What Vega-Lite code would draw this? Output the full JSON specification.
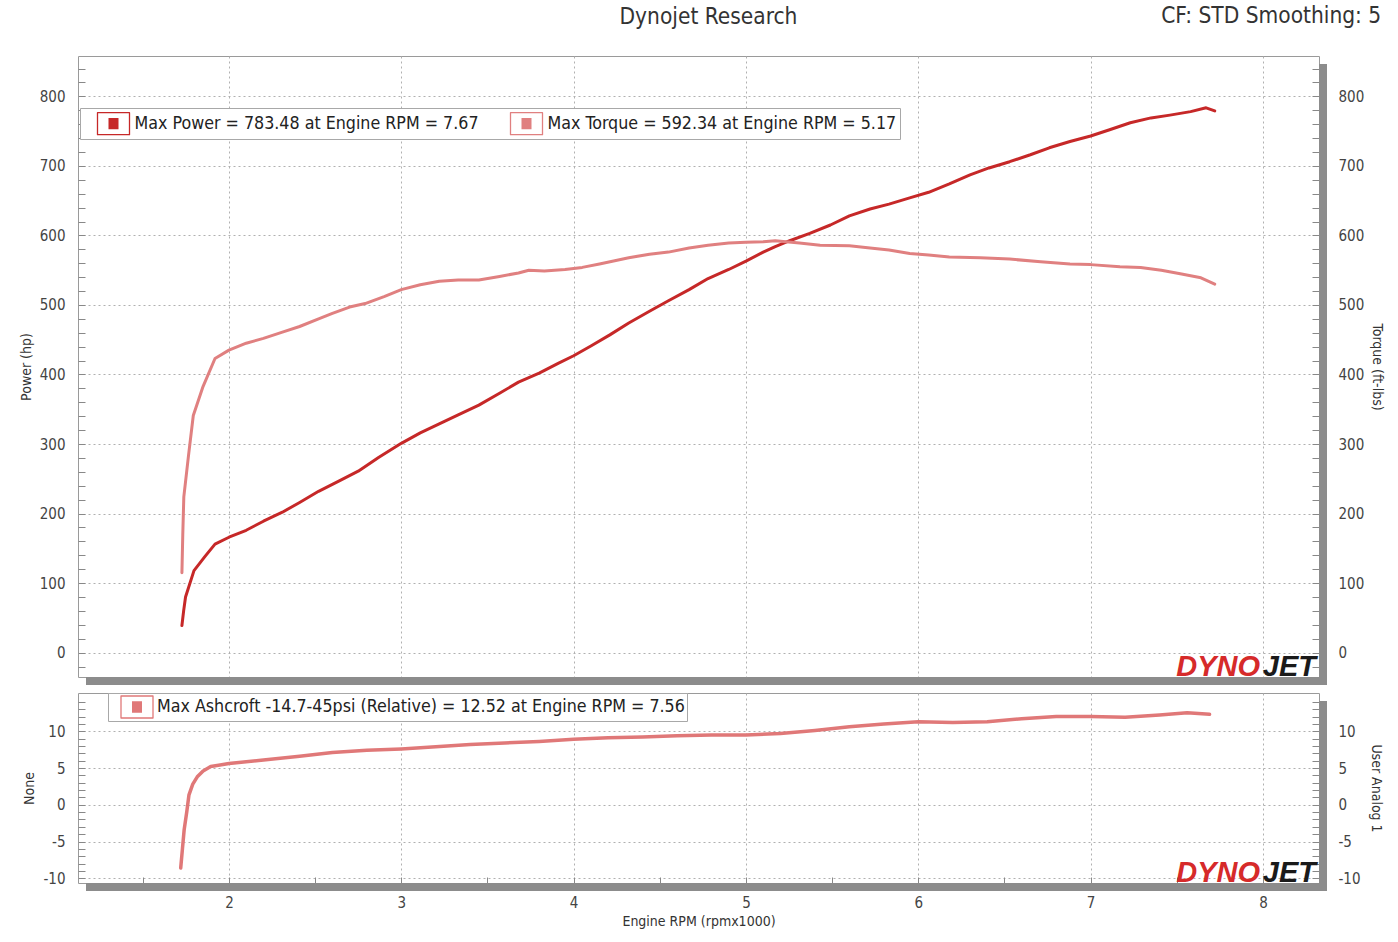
{
  "$schema": "https://vega.github.io/schema/vega-lite/v6.json",
  "background": "white",
  "padding": {"left": 18, "top": 4, "right": 5, "bottom": 5},
  "title": {"text": "CF: STD Smoothing: 5", "anchor": "end", "frame": "bounds", "fontSize": 22.5, "fontWeight": "normal", "font": "DejaVu Sans Condensed, Liberation Sans, sans-serif", "color": "#333333", "offset": 0, "dy": 22, "dx": -3},
  "datasets": {
    "dyno": [
      {"rpm": 1.727, "series": "Power", "value": 39},
      {"rpm": 1.737, "series": "Power", "value": 60},
      {"rpm": 1.748, "series": "Power", "value": 80},
      {"rpm": 1.797, "series": "Power", "value": 118},
      {"rpm": 1.86, "series": "Power", "value": 138},
      {"rpm": 1.919, "series": "Power", "value": 156},
      {"rpm": 2.0, "series": "Power", "value": 166},
      {"rpm": 2.1, "series": "Power", "value": 176},
      {"rpm": 2.2, "series": "Power", "value": 189},
      {"rpm": 2.31, "series": "Power", "value": 202},
      {"rpm": 2.41, "series": "Power", "value": 216},
      {"rpm": 2.52, "series": "Power", "value": 232},
      {"rpm": 2.64, "series": "Power", "value": 247},
      {"rpm": 2.75, "series": "Power", "value": 261},
      {"rpm": 2.87, "series": "Power", "value": 281},
      {"rpm": 3.0, "series": "Power", "value": 301},
      {"rpm": 3.11, "series": "Power", "value": 316},
      {"rpm": 3.22, "series": "Power", "value": 329},
      {"rpm": 3.33, "series": "Power", "value": 342},
      {"rpm": 3.45, "series": "Power", "value": 356},
      {"rpm": 3.57, "series": "Power", "value": 373},
      {"rpm": 3.68, "series": "Power", "value": 389},
      {"rpm": 3.8, "series": "Power", "value": 402},
      {"rpm": 3.91, "series": "Power", "value": 416},
      {"rpm": 4.0, "series": "Power", "value": 427},
      {"rpm": 4.1, "series": "Power", "value": 441},
      {"rpm": 4.21, "series": "Power", "value": 457},
      {"rpm": 4.32, "series": "Power", "value": 474},
      {"rpm": 4.44, "series": "Power", "value": 491},
      {"rpm": 4.55, "series": "Power", "value": 506},
      {"rpm": 4.67, "series": "Power", "value": 522},
      {"rpm": 4.78, "series": "Power", "value": 538},
      {"rpm": 4.9, "series": "Power", "value": 551},
      {"rpm": 5.0, "series": "Power", "value": 563},
      {"rpm": 5.1, "series": "Power", "value": 576},
      {"rpm": 5.17, "series": "Power", "value": 584},
      {"rpm": 5.25, "series": "Power", "value": 592},
      {"rpm": 5.37, "series": "Power", "value": 603},
      {"rpm": 5.49, "series": "Power", "value": 615},
      {"rpm": 5.6, "series": "Power", "value": 628},
      {"rpm": 5.72, "series": "Power", "value": 638},
      {"rpm": 5.83, "series": "Power", "value": 645},
      {"rpm": 5.95, "series": "Power", "value": 654},
      {"rpm": 6.06, "series": "Power", "value": 662},
      {"rpm": 6.18, "series": "Power", "value": 674},
      {"rpm": 6.3, "series": "Power", "value": 687},
      {"rpm": 6.41, "series": "Power", "value": 697},
      {"rpm": 6.53, "series": "Power", "value": 706},
      {"rpm": 6.65, "series": "Power", "value": 716},
      {"rpm": 6.76, "series": "Power", "value": 726},
      {"rpm": 6.88, "series": "Power", "value": 735},
      {"rpm": 7.0, "series": "Power", "value": 743},
      {"rpm": 7.11, "series": "Power", "value": 752},
      {"rpm": 7.23, "series": "Power", "value": 762},
      {"rpm": 7.35, "series": "Power", "value": 769},
      {"rpm": 7.46, "series": "Power", "value": 773},
      {"rpm": 7.58, "series": "Power", "value": 778},
      {"rpm": 7.67, "series": "Power", "value": 783.5},
      {"rpm": 7.72, "series": "Power", "value": 779},
      {"rpm": 1.727, "series": "Torque", "value": 115},
      {"rpm": 1.732, "series": "Torque", "value": 170},
      {"rpm": 1.738, "series": "Torque", "value": 224},
      {"rpm": 1.765, "series": "Torque", "value": 283},
      {"rpm": 1.793, "series": "Torque", "value": 341},
      {"rpm": 1.85, "series": "Torque", "value": 383},
      {"rpm": 1.919, "series": "Torque", "value": 423},
      {"rpm": 2.0, "series": "Torque", "value": 435},
      {"rpm": 2.1, "series": "Torque", "value": 445},
      {"rpm": 2.2, "series": "Torque", "value": 452},
      {"rpm": 2.31, "series": "Torque", "value": 461},
      {"rpm": 2.41, "series": "Torque", "value": 469},
      {"rpm": 2.52, "series": "Torque", "value": 480},
      {"rpm": 2.6, "series": "Torque", "value": 488},
      {"rpm": 2.7, "series": "Torque", "value": 497},
      {"rpm": 2.79, "series": "Torque", "value": 502},
      {"rpm": 2.9, "series": "Torque", "value": 512},
      {"rpm": 3.0, "series": "Torque", "value": 522},
      {"rpm": 3.11, "series": "Torque", "value": 529},
      {"rpm": 3.22, "series": "Torque", "value": 534},
      {"rpm": 3.33, "series": "Torque", "value": 536},
      {"rpm": 3.45, "series": "Torque", "value": 536},
      {"rpm": 3.57, "series": "Torque", "value": 541},
      {"rpm": 3.68, "series": "Torque", "value": 546},
      {"rpm": 3.74, "series": "Torque", "value": 550},
      {"rpm": 3.83, "series": "Torque", "value": 549},
      {"rpm": 3.95, "series": "Torque", "value": 551},
      {"rpm": 4.05, "series": "Torque", "value": 554},
      {"rpm": 4.15, "series": "Torque", "value": 559},
      {"rpm": 4.32, "series": "Torque", "value": 568},
      {"rpm": 4.44, "series": "Torque", "value": 573},
      {"rpm": 4.55, "series": "Torque", "value": 576},
      {"rpm": 4.67, "series": "Torque", "value": 582},
      {"rpm": 4.78, "series": "Torque", "value": 586},
      {"rpm": 4.9, "series": "Torque", "value": 589},
      {"rpm": 5.0, "series": "Torque", "value": 590},
      {"rpm": 5.1, "series": "Torque", "value": 591},
      {"rpm": 5.17, "series": "Torque", "value": 592.3},
      {"rpm": 5.31, "series": "Torque", "value": 589},
      {"rpm": 5.43, "series": "Torque", "value": 586},
      {"rpm": 5.6, "series": "Torque", "value": 585},
      {"rpm": 5.72, "series": "Torque", "value": 582},
      {"rpm": 5.83, "series": "Torque", "value": 579},
      {"rpm": 5.95, "series": "Torque", "value": 574},
      {"rpm": 6.06, "series": "Torque", "value": 572},
      {"rpm": 6.18, "series": "Torque", "value": 569},
      {"rpm": 6.36, "series": "Torque", "value": 568},
      {"rpm": 6.53, "series": "Torque", "value": 566},
      {"rpm": 6.71, "series": "Torque", "value": 562},
      {"rpm": 6.88, "series": "Torque", "value": 559},
      {"rpm": 7.0, "series": "Torque", "value": 558},
      {"rpm": 7.17, "series": "Torque", "value": 555},
      {"rpm": 7.29, "series": "Torque", "value": 554},
      {"rpm": 7.41, "series": "Torque", "value": 550},
      {"rpm": 7.52, "series": "Torque", "value": 545},
      {"rpm": 7.64, "series": "Torque", "value": 539},
      {"rpm": 7.72, "series": "Torque", "value": 530},
      {"rpm": 1.72, "series": "Boost", "value": -8.6},
      {"rpm": 1.73, "series": "Boost", "value": -6.0},
      {"rpm": 1.74, "series": "Boost", "value": -3.4},
      {"rpm": 1.755, "series": "Boost", "value": -1.0},
      {"rpm": 1.768, "series": "Boost", "value": 1.35},
      {"rpm": 1.79, "series": "Boost", "value": 2.8},
      {"rpm": 1.816, "series": "Boost", "value": 3.8},
      {"rpm": 1.85, "series": "Boost", "value": 4.6},
      {"rpm": 1.894, "series": "Boost", "value": 5.2},
      {"rpm": 2.0, "series": "Boost", "value": 5.6},
      {"rpm": 2.2, "series": "Boost", "value": 6.1},
      {"rpm": 2.41, "series": "Boost", "value": 6.6},
      {"rpm": 2.6, "series": "Boost", "value": 7.1},
      {"rpm": 2.8, "series": "Boost", "value": 7.4},
      {"rpm": 3.0, "series": "Boost", "value": 7.6},
      {"rpm": 3.2, "series": "Boost", "value": 7.9},
      {"rpm": 3.4, "series": "Boost", "value": 8.2},
      {"rpm": 3.6, "series": "Boost", "value": 8.4},
      {"rpm": 3.8, "series": "Boost", "value": 8.6},
      {"rpm": 4.0, "series": "Boost", "value": 8.9},
      {"rpm": 4.2, "series": "Boost", "value": 9.1},
      {"rpm": 4.4, "series": "Boost", "value": 9.2},
      {"rpm": 4.6, "series": "Boost", "value": 9.4},
      {"rpm": 4.8, "series": "Boost", "value": 9.5},
      {"rpm": 5.0, "series": "Boost", "value": 9.5},
      {"rpm": 5.2, "series": "Boost", "value": 9.7},
      {"rpm": 5.4, "series": "Boost", "value": 10.1},
      {"rpm": 5.6, "series": "Boost", "value": 10.6},
      {"rpm": 5.8, "series": "Boost", "value": 11.0},
      {"rpm": 6.0, "series": "Boost", "value": 11.3},
      {"rpm": 6.2, "series": "Boost", "value": 11.2},
      {"rpm": 6.4, "series": "Boost", "value": 11.3},
      {"rpm": 6.6, "series": "Boost", "value": 11.7},
      {"rpm": 6.8, "series": "Boost", "value": 12.0},
      {"rpm": 7.0, "series": "Boost", "value": 12.0},
      {"rpm": 7.2, "series": "Boost", "value": 11.9},
      {"rpm": 7.4, "series": "Boost", "value": 12.2},
      {"rpm": 7.56, "series": "Boost", "value": 12.5},
      {"rpm": 7.69, "series": "Boost", "value": 12.3}
    ],
    "logo": [{"part": "DYNO"}],
    "logo2": [{"part": "JET"}],
    "frame": [{"part": "shadow"}]
  },
  "spacing": 2,
  "resolve": {"scale": {"color": "independent", "x": "independent"}, "legend": {"color": "independent"}},
  "vconcat": [
    {
      "width": 1241,
      "height": 621,
      "title": {"text": "Dynojet Research", "anchor": "middle", "fontSize": 22.5, "offset": 28, "dx": 10, "font": "DejaVu Sans Condensed, Liberation Sans, sans-serif", "fontWeight": "normal", "color": "#333333"},
      "layer": [
        {
          "layer": [
            {
              "data": {"name": "dyno"},
              "transform": [{"filter": "datum.series === 'Power'"}],
              "mark": {"type": "line", "strokeWidth": 3, "color": "#c62828"},
              "encoding": {
                "x": {"field": "rpm", "type": "quantitative", "scale": {"domain": [1.124, 8.325], "nice": false, "zero": false},
                      "axis": {"title": null, "labels": false, "ticks": false, "domain": false, "grid": true, "values": [2, 3, 4, 5, 6, 7, 8], "tickCount": 100}},
                "y": {"field": "value", "type": "quantitative", "scale": {"domain": [-35, 858], "nice": false, "zero": false},
                      "axis": {"title": "Power (hp)", "orient": "left", "tickCount": 100,
                               "values": [-20, 0, 20, 40, 60, 80, 100, 120, 140, 160, 180, 200, 220, 240, 260, 280, 300, 320, 340, 360, 380, 400, 420, 440, 460, 480, 500, 520, 540, 560, 580, 600, 620, 640, 660, 680, 700, 720, 740, 760, 780, 800, 820, 840],
                               "labelExpr": "datum.value % 100 === 0 ? '' + datum.value : ''",
                               "gridOpacity": {"condition": {"test": "datum.value % 100 === 0", "value": 1}, "value": 0},
                               "tickSize": -7, "labelPadding": 20, "titlePadding": 6}},
                "color": {"field": "series", "type": "nominal",
                          "scale": {"domain": ["Power", "Torque"], "range": ["#c62828", "#e08080"]},
                          "legend": {"title": null, "orient": "none", "legendX": 2, "legendY": 52, "direction": "horizontal",
                                     "labelExpr": "datum.label === 'Power' ? 'Max Power = 783.48 at Engine RPM = 7.67' : 'Max Torque = 592.34 at Engine RPM = 5.17'",
                                     "labelFont": "DejaVu Sans Condensed, Liberation Sans, sans-serif", "labelFontSize": 17.7, "labelColor": "#222222", "labelLimit": 800,
                                     "symbolType": "M-1.4545,-1H1.4545V1H-1.4545Z M-0.4545,-0.4545H0.4545 M-0.4545,-0.3636H0.4545 M-0.4545,-0.2727H0.4545 M-0.4545,-0.1818H0.4545 M-0.4545,-0.0909H0.4545 M-0.4545,0H0.4545 M-0.4545,0.0909H0.4545 M-0.4545,0.1818H0.4545 M-0.4545,0.2727H0.4545 M-0.4545,0.3636H0.4545 M-0.4545,0.4545H0.4545",
                                     "symbolSize": 484, "symbolStrokeWidth": 1.3, "symbolOffset": 18, "labelOffset": 9,
                                     "columnPadding": 17, "padding": 3.5, "strokeColor": "#a8a8a8", "fillColor": "#ffffff"}}
              }
            },
            {
              "data": {"name": "frame"},
              "mark": {"type": "rule", "color": "#8c8c8c", "strokeWidth": 8, "xOffset": 4, "yOffset": 8, "y2Offset": 8},
              "encoding": {
                "x": {"datum": 8.325, "type": "quantitative"},
                "y": {"datum": 858, "type": "quantitative"},
                "y2": {"datum": -35}
              }
            },
            {
              "data": {"name": "frame"},
              "mark": {"type": "rule", "color": "#8c8c8c", "strokeWidth": 8, "yOffset": 4, "xOffset": 8, "x2Offset": 8},
              "encoding": {
                "x": {"datum": 1.124, "type": "quantitative"},
                "x2": {"datum": 8.325},
                "y": {"datum": -35, "type": "quantitative"}
              }
            },
            {
              "data": {"name": "logo"},
              "mark": {"type": "text", "align": "right", "baseline": "alphabetic", "dx": -59, "dy": -1, "font": "Liberation Sans, sans-serif", "fontSize": 29, "fontWeight": "bold", "fontStyle": "italic", "color": "#d62a2a"},
              "encoding": {
                "x": {"datum": 8.325, "type": "quantitative"},
                "y": {"datum": -35, "type": "quantitative"},
                "text": {"field": "part"}
              }
            },
            {
              "data": {"name": "logo2"},
              "mark": {"type": "text", "align": "right", "baseline": "alphabetic", "dx": -3, "dy": -1, "font": "Liberation Sans, sans-serif", "fontSize": 29, "fontWeight": "bold", "fontStyle": "italic", "color": "#1a1a1a"},
              "encoding": {
                "x": {"datum": 8.325, "type": "quantitative"},
                "y": {"datum": -35, "type": "quantitative"},
                "text": {"field": "part"}
              }
            }
          ]
        },
        {
          "data": {"name": "dyno"},
          "transform": [{"filter": "datum.series === 'Torque'"}],
          "mark": {"type": "line", "strokeWidth": 3, "color": "#e08080"},
          "encoding": {
            "x": {"field": "rpm", "type": "quantitative", "scale": {"domain": [1.124, 8.325], "nice": false, "zero": false},
                  "axis": {"title": null, "labels": false, "ticks": false, "domain": false, "grid": true, "values": [2, 3, 4, 5, 6, 7, 8], "tickCount": 100}},
            "y": {"field": "value", "type": "quantitative", "scale": {"domain": [-35, 858], "nice": false, "zero": false},
                  "axis": {"title": "Torque (ft-lbs)", "orient": "right", "grid": false, "tickCount": 100,
                           "values": [-20, 0, 20, 40, 60, 80, 100, 120, 140, 160, 180, 200, 220, 240, 260, 280, 300, 320, 340, 360, 380, 400, 420, 440, 460, 480, 500, 520, 540, 560, 580, 600, 620, 640, 660, 680, 700, 720, 740, 760, 780, 800, 820, 840],
                           "labelExpr": "datum.value % 100 === 0 ? '' + datum.value : ''",
                           "tickSize": -7, "labelPadding": 26, "titlePadding": 6}},
            "color": {"field": "series", "type": "nominal", "scale": {"domain": ["Power", "Torque"], "range": ["#c62828", "#e08080"]}}
          }
        }
      ],
      "resolve": {"scale": {"y": "independent"}}
    },
    {
      "width": 1241,
      "height": 190,
      "layer": [
        {
          "layer": [
            {
              "data": {"name": "dyno"},
              "transform": [{"filter": "datum.series === 'Boost'"}],
              "mark": {"type": "line", "strokeWidth": 3.5, "color": "#e07878"},
              "encoding": {
                "x": {"field": "rpm", "type": "quantitative", "scale": {"domain": [1.124, 8.325], "nice": false, "zero": false},
                      "axis": {"title": "Engine RPM (rpmx1000)", "grid": true, "domain": false, "tickCount": 100,
                               "values": [1.5, 2, 2.5, 3, 3.5, 4, 4.5, 5, 5.5, 6, 6.5, 7, 7.5, 8],
                               "labelExpr": "datum.value % 1 === 0 ? '' + datum.value : ''",
                               "gridOpacity": {"condition": {"test": "datum.value % 1 === 0", "value": 1}, "value": 0},
                               "tickSize": -6, "labelPadding": 18, "titlePadding": 4}},
                "y": {"field": "value", "type": "quantitative", "scale": {"domain": [-10.64, 15.2], "nice": false, "zero": false},
                      "axis": {"title": "None", "orient": "left", "tickCount": 100,
                               "values": [-10, -9, -8, -7, -6, -5, -4, -3, -2, -1, 0, 1, 2, 3, 4, 5, 6, 7, 8, 9, 10, 11, 12, 13, 14],
                               "labelExpr": "datum.value % 5 === 0 && datum.value <= 10 ? '' + datum.value : ''",
                               "gridOpacity": {"condition": {"test": "datum.value % 5 === 0 && datum.value <= 10", "value": 1}, "value": 0},
                               "tickSize": -7, "labelPadding": 20, "titlePadding": 6}},
                "color": {"field": "series", "type": "nominal",
                          "scale": {"domain": ["Boost"], "range": ["#e07878"]},
                          "legend": {"title": null, "orient": "none", "legendX": 30, "legendY": 0, "direction": "horizontal",
                                     "labelExpr": "'Max Ashcroft -14.7-45psi (Relative) = 12.52 at Engine RPM = 7.56'",
                                     "labelFont": "DejaVu Sans Condensed, Liberation Sans, sans-serif", "labelFontSize": 17.7, "labelColor": "#222222", "labelLimit": 800,
                                     "symbolType": "M-1.4545,-1H1.4545V1H-1.4545Z M-0.4545,-0.4545H0.4545 M-0.4545,-0.3636H0.4545 M-0.4545,-0.2727H0.4545 M-0.4545,-0.1818H0.4545 M-0.4545,-0.0909H0.4545 M-0.4545,0H0.4545 M-0.4545,0.0909H0.4545 M-0.4545,0.1818H0.4545 M-0.4545,0.2727H0.4545 M-0.4545,0.3636H0.4545 M-0.4545,0.4545H0.4545",
                                     "symbolSize": 484, "symbolStrokeWidth": 1.3, "symbolOffset": 15, "labelOffset": 8,
                                     "padding": 2, "strokeColor": "#a8a8a8", "fillColor": "#ffffff"}}
              }
            },
            {
              "data": {"name": "frame"},
              "mark": {"type": "rule", "color": "#8c8c8c", "strokeWidth": 8, "xOffset": 4, "yOffset": 8, "y2Offset": 8},
              "encoding": {
                "x": {"datum": 8.325, "type": "quantitative"},
                "y": {"datum": 15.2, "type": "quantitative"},
                "y2": {"datum": -10.64}
              }
            },
            {
              "data": {"name": "frame"},
              "mark": {"type": "rule", "color": "#8c8c8c", "strokeWidth": 8, "yOffset": 4, "xOffset": 8, "x2Offset": 8},
              "encoding": {
                "x": {"datum": 1.124, "type": "quantitative"},
                "x2": {"datum": 8.325},
                "y": {"datum": -10.64, "type": "quantitative"}
              }
            }
          ]
        },
        {
          "layer": [
            {
              "data": {"name": "logo"},
              "mark": {"type": "text", "align": "right", "baseline": "alphabetic", "dx": -59, "dy": -1, "font": "Liberation Sans, sans-serif", "fontSize": 29, "fontWeight": "bold", "fontStyle": "italic", "color": "#d62a2a"},
              "encoding": {
                "x": {"datum": 8.325, "type": "quantitative"},
                "y": {"datum": -10.64, "type": "quantitative", "scale": {"domain": [-10.64, 15.2], "nice": false, "zero": false},
                      "axis": {"title": "User Analog 1", "orient": "right", "grid": false, "tickCount": 100,
                               "values": [-10, -9, -8, -7, -6, -5, -4, -3, -2, -1, 0, 1, 2, 3, 4, 5, 6, 7, 8, 9, 10, 11, 12, 13, 14],
                               "labelExpr": "datum.value % 5 === 0 && datum.value <= 10 ? '' + datum.value : ''",
                               "tickSize": -7, "labelPadding": 26, "titlePadding": 8}},
                "text": {"field": "part"}
              }
            },
            {
              "data": {"name": "logo2"},
              "mark": {"type": "text", "align": "right", "baseline": "alphabetic", "dx": -3, "dy": -1, "font": "Liberation Sans, sans-serif", "fontSize": 29, "fontWeight": "bold", "fontStyle": "italic", "color": "#1a1a1a"},
              "encoding": {
                "x": {"datum": 8.325, "type": "quantitative"},
                "y": {"datum": -10.64, "type": "quantitative"},
                "text": {"field": "part"}
              }
            }
          ]
        }
      ],
      "resolve": {"scale": {"y": "independent"}}
    }
  ],
  "config": {
    "font": "DejaVu Sans Condensed, Liberation Sans, sans-serif",
    "view": {"stroke": "#9a9a9a", "strokeWidth": 1},
    "axis": {"labelFont": "DejaVu Sans Condensed, Liberation Sans, sans-serif", "labelFontSize": 15, "labelColor": "#444444",
             "titleFont": "DejaVu Sans Condensed, Liberation Sans, sans-serif", "titleFontSize": 14, "titleFontWeight": "normal", "titleColor": "#333333",
             "domain": false, "tickColor": "#888888", "gridColor": "#b0b0b0", "gridDash": [2, 3], "gridWidth": 1, "labelOverlap": false, "labelFlush": false},
    "line": {"strokeCap": "round", "strokeJoin": "round"}
  }
}
